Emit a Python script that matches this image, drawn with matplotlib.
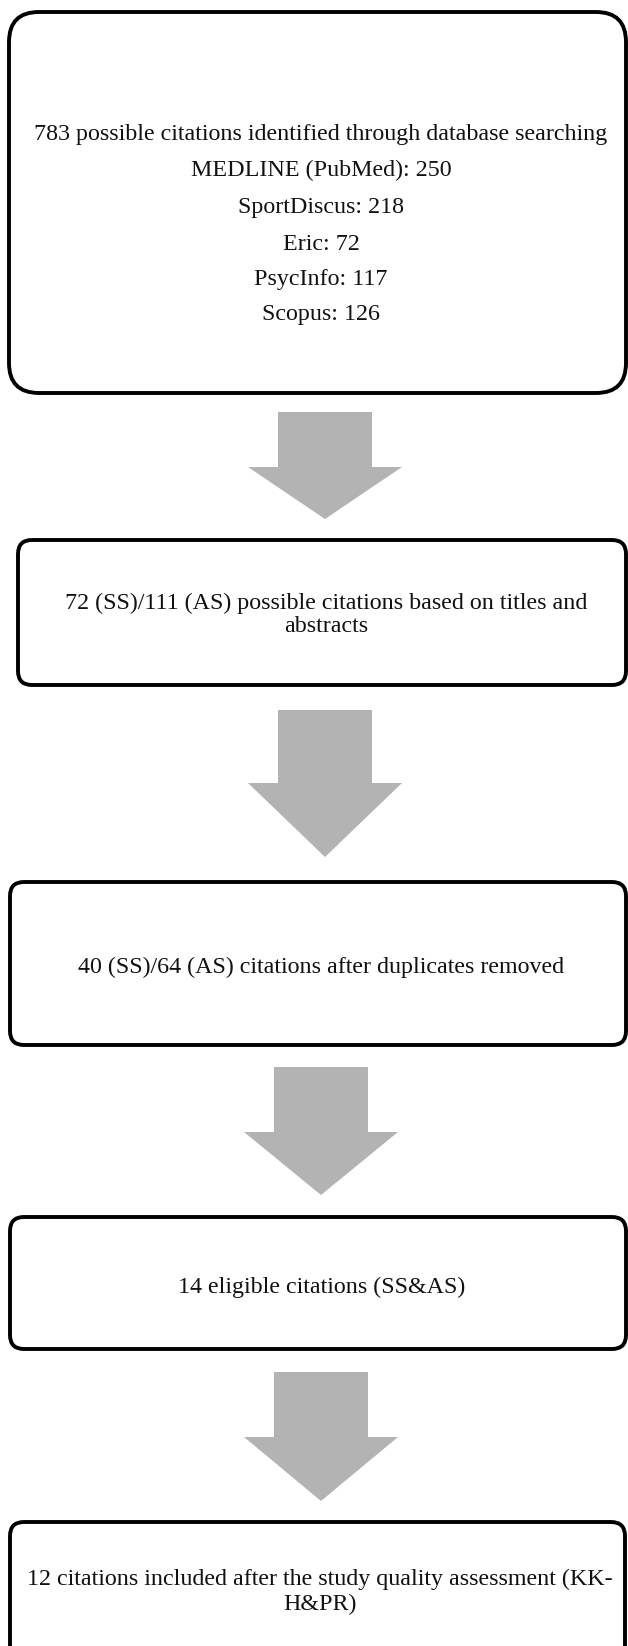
import matplotlib
matplotlib.use("Agg")
import matplotlib.pyplot as plt
from matplotlib.patches import FancyBboxPatch, Polygon

# ---- content ----
box_texts = [
    ["783 possible citations identified through database searching",
     "MEDLINE (PubMed): 250",
     "SportDiscus: 218",
     "Eric: 72",
     "PsycInfo: 117",
     "Scopus: 126"],
    ["72 (SS)/111 (AS) possible citations based on titles and",
     "abstracts"],
    ["40 (SS)/64 (AS) citations after duplicates removed"],
    ["14 eligible citations (SS&AS)"],
    ["12 citations included after the study quality assessment (KK-",
     "H&PR)"],
]

# ---- layout (pixels, y downward) ----
box_left = [9, 18, 10, 10, 10]
box_top = [12, 540, 882, 1217, 1522]
box_bottom = [393, 685, 1045, 1349, 1700]
box_right = [626, 626, 626, 626, 625]
box_radius = [30, 14, 14, 14, 14]
text_cx = [321, 326, 321, 322, 320]
text_cy = [[132, 168, 205, 242, 277, 312],
           [601, 624],
           [965],
           [1285],
           [1577, 1602]]

arrow_cx = [325, 325, 321, 321]
arrow_top = [412, 710, 1067, 1372]
arrow_shoulder = [467, 783, 1132, 1437]
arrow_tip = [519, 857, 1195, 1501]
shaft_half = [47, 47, 47, 47]
head_half = [77, 77, 77, 77]

W, H = 628, 1646
fig = plt.figure(figsize=(W / 100, H / 100), dpi=100)
ax = fig.add_axes([0, 0, 1, 1])
ax.set_xlim(0, W)
ax.set_ylim(H, 0)
ax.axis("off")

for i in range(len(box_texts)):
    x0, x1 = box_left[i], box_right[i]
    y0, y1 = box_top[i], box_bottom[i]
    p = FancyBboxPatch((x0, y0), x1 - x0, y1 - y0,
                       boxstyle=f"round,pad=0,rounding_size={box_radius[i]}",
                       fc="white", ec="black", lw=2.8)
    ax.add_patch(p)
    for line, cy in zip(box_texts[i], text_cy[i]):
        ax.text(text_cx[i], cy + 8, line, ha="center", va="baseline",
                fontsize=17.3, family="Liberation Serif", color="#111111")

for i in range(len(arrow_cx)):
    cx = arrow_cx[i]
    s, h = shaft_half[i], head_half[i]
    pts = [(cx - s, arrow_top[i]), (cx + s, arrow_top[i]),
           (cx + s, arrow_shoulder[i]), (cx + h, arrow_shoulder[i]),
           (cx, arrow_tip[i]), (cx - h, arrow_shoulder[i]),
           (cx - s, arrow_shoulder[i])]
    ax.add_patch(Polygon(pts, closed=True, fc="#b3b3b3", ec="none"))

fig.savefig("out.png", dpi=100, facecolor="white")
